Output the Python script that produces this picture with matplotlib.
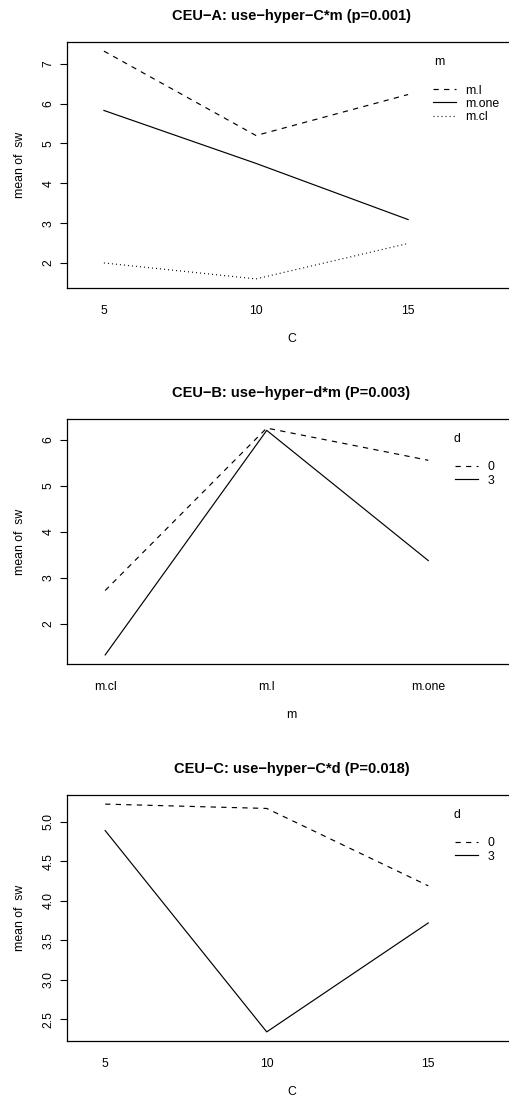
"""
Interaction plots of mean sw for the three CEU experiments.
"""
import matplotlib
matplotlib.use("Agg")
import matplotlib.pyplot as plt
from matplotlib.lines import Line2D

plt.rcParams['font.family'] = ['Liberation Sans', 'DejaVu Sans']
plt.rcParams['lines.scale_dashes'] = False

# CEU-A: C on x, traces by m
a_levels = ['5', '10', '15']
a_traces = ['m.l', 'm.one', 'm.cl']
a_ml = [7.32, 5.20, 6.23]
a_mone = [5.83, 4.50, 3.09]
a_mcl = [2.00, 1.60, 2.49]

# CEU-B: m on x, traces by d
b_levels = ['m.cl', 'm.l', 'm.one']
b_traces = ['0', '3']
b_d0 = [2.73, 6.26, 5.56]
b_d3 = [1.33, 6.21, 3.38]

# CEU-C: C on x, traces by d
c_levels = ['5', '10', '15']
c_traces = ['0', '3']
c_d0 = [5.225, 5.17, 4.19]
c_d3 = [4.89, 2.34, 3.72]

DASH = (0, (3.8, 3.8))
DOT = (0, (0.7, 2.2))
W, H = 509, 1100
FS = 8.8

panels = [
    dict(title='CEU\u2212A: use\u2212hyper\u2212C*m (p=0.001)', levels=a_levels,
         xlabel='C', trace='m', names=a_traces, series=[a_ml, a_mone, a_mcl],
         styles=[DASH, '-', DOT], top=42, bottom=288, yticks=[2, 3, 4, 5, 6, 7],
         ytl=['2', '3', '4', '5', '6', '7'], maxchar=5),
    dict(title='CEU\u2212B: use\u2212hyper\u2212d*m (P=0.003)', levels=b_levels,
         xlabel='m', trace='d', names=b_traces, series=[b_d0, b_d3],
         styles=[DASH, '-'], top=419, bottom=664, yticks=[2, 3, 4, 5, 6],
         ytl=['2', '3', '4', '5', '6'], maxchar=1),
    dict(title='CEU\u2212C: use\u2212hyper\u2212C*d (P=0.018)', levels=c_levels,
         xlabel='C', trace='d', names=c_traces, series=[c_d0, c_d3],
         styles=[DASH, '-'], top=795, bottom=1041, yticks=[2.5, 3.0, 3.5, 4.0, 4.5, 5.0],
         ytl=['2.5', '3.0', '3.5', '4.0', '4.5', '5.0'], maxchar=1),
]

fig = plt.figure(figsize=(W / 100, H / 100), dpi=100)
left, right = 67, 516

for p in panels:
    ax = fig.add_axes([left / W, 1 - p['bottom'] / H, (right - left) / W,
                       (p['bottom'] - p['top']) / H])
    x = [1, 2, 3]
    for vals, ls in zip(p['series'], p['styles']):
        ax.plot(x, vals, color='black', lw=0.85, ls=ls)

    # x range as interaction.plot builds it, then the usual 4% padding
    lo = 1 - 0.2 / 3 * 2
    hi = 3 + (0.2 + 0.02 * p['maxchar']) * 2
    pad = 0.04 * (hi - lo)
    ax.set_xlim(lo - pad, hi + pad)
    allv = [v for s in p['series'] for v in s]
    ymin, ymax = min(allv), max(allv)
    ypad = 0.04 * (ymax - ymin)
    ax.set_ylim(ymin - ypad, ymax + ypad)

    ax.set_xticks(x)
    ax.set_xticklabels(p['levels'])
    ax.set_yticks(p['yticks'])
    ax.set_yticklabels(p['ytl'], rotation=90, va='center')
    ax.tick_params(axis='x', length=0, pad=12, labelsize=FS)
    ax.tick_params(axis='y', length=5, width=0.8, pad=4, labelsize=FS)
    for s in ax.spines.values():
        s.set_linewidth(0.9)

    ax.set_title(p['title'], fontsize=10.5, fontweight='bold', pad=15.5)
    ax.set_xlabel(p['xlabel'], fontsize=FS, labelpad=12)
    ax.set_ylabel('mean of  sw', fontsize=FS, labelpad=12)

    # trace legend, title line then a blank row
    ytop = p['top']
    if p['trace'] == 'm':
        tx, ty, lx0 = 434, ytop + 20, 433
    else:
        tx, ty, lx0 = 454, ytop + 20, 455
    fig.text(tx / W, 1 - ty / H, p['trace'], fontsize=FS, ha='left', va='center')
    handles = [Line2D([], [], color='black', lw=0.85, ls=ls) for ls in p['styles']]
    ax.legend(handles, p['names'], loc='upper left', frameon=False, fontsize=FS,
              bbox_to_anchor=(lx0 / W, 1 - (ty + 22.5) / H),
              bbox_transform=fig.transFigure, handlelength=1.9, handletextpad=0.75,
              labelspacing=0.1, borderpad=0, borderaxespad=0)

fig.savefig('out.png', dpi=100)
